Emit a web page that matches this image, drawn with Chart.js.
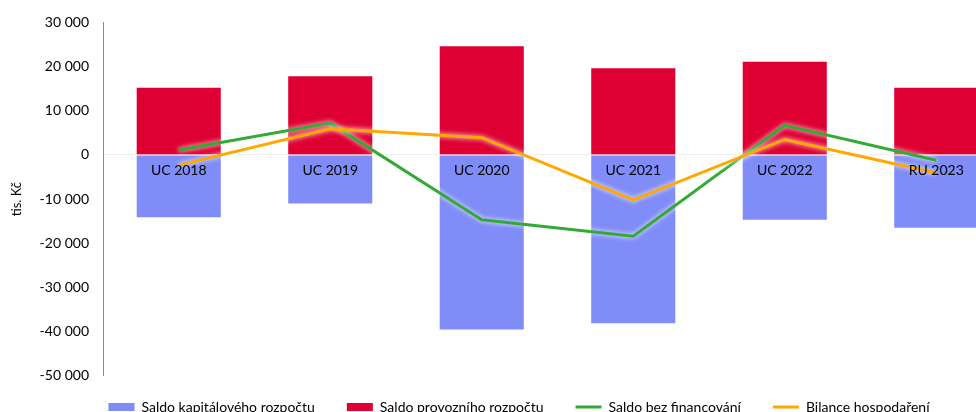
<!DOCTYPE html>
<html>
<head>
<meta charset="utf-8">
<script src="https://cdn.jsdelivr.net/npm/chart.js@4"></script>
<style>
    html, body { margin: 0; padding: 0; background: #fff; overflow: hidden; }
    #box { width: 1040px; height: 424px; }
</style>
</head>
<body>
<div id="box"><canvas id="saldoChart" width="1040" height="424"></canvas></div>
<script>
const years = ["UC 2018", "UC 2019", "UC 2020", "UC 2021", "UC 2022", "RU 2023"];
const kapitalovy = [-14100, -11000, -39500, -38100, -14700, -16500];
const provozni = [15200, 17800, 24600, 19600, 21100, 15200];
const bezFinancovani = [1100, 7200, -14700, -18400, 6700, -1200];
const bilance = [-2300, 5900, 3900, -10200, 3500, -4100];

const FONT = "Lato, 'Open Sans', sans-serif";
const BLUE = "#808cf8";
const RED = "#de0033";
const GREEN = "#33aa33";
const ORANGE = "#ffa800";

function formatThousands(v) {
    let s = String(Math.abs(v)).replace(/\B(?=(\d{3})+(?!\d))/g, " ");
    return (v < 0 ? "-" : "") + s;
}

// white halo round the lines, like the reference
const lineGlow = {
    id: "lineGlow",
    beforeDatasetDraw(chart, args) {
        if (args.meta.type !== "line") return;
        chart.ctx.save();
        chart.ctx.shadowColor = "rgba(255,255,255,0.95)";
        chart.ctx.shadowBlur = 5;
    },
    afterDatasetDraw(chart, args) {
        if (args.meta.type !== "line") return;
        chart.ctx.restore();
    },
};

let datasets = [];
datasets.push({
    type: "bar",
    label: "Saldo kapitálového rozpočtu",
    data: kapitalovy,
    backgroundColor: BLUE,
    borderColor: "#ffffff",
    borderWidth: 1,
    borderSkipped: false,
    inflateAmount: 1,
    grouped: false,
    order: 2,
});
datasets.push({
    type: "bar",
    label: "Saldo provozního rozpočtu",
    data: provozni,
    backgroundColor: RED,
    borderColor: "#ffffff",
    borderWidth: 1,
    borderSkipped: false,
    inflateAmount: 1,
    grouped: false,
    order: 2,
});
datasets.push({
    type: "line",
    label: "Saldo bez financování",
    data: bezFinancovani,
    borderColor: GREEN,
    backgroundColor: GREEN,
    borderWidth: 3,
    pointRadius: 0,
    tension: 0,
    order: 1,
});
datasets.push({
    type: "line",
    label: "Bilance hospodaření",
    data: bilance,
    borderColor: ORANGE,
    backgroundColor: ORANGE,
    borderWidth: 3,
    pointRadius: 0,
    tension: 0,
    order: 0,
});

let canvas = document.getElementById("saldoChart");
let chart = new Chart(canvas, {
    type: "bar",
    data: {
        labels: years,
        datasets: datasets,
    },
    options: {
        responsive: false,
        animation: false,
        barPercentage: 0.555,
        categoryPercentage: 1,
        layout: {
            padding: { top: 21, left: 26, right: 28, bottom: 0 },
        },
        font: { family: FONT, size: 14 },
        scales: {
            x: {
                // category labels sit just under the zero line, on top of the bars
                position: { y: 0 },
                grid: { display: false },
                border: { display: false },
                ticks: {
                    z: 1,
                    color: "#000",
                    font: { family: FONT, size: 14 },
                    padding: -1,
                    maxRotation: 0,
                    autoSkip: false,
                },
            },
            y: {
                min: -50000,
                max: 30000,
                afterFit: function (scale) {
                    scale.width = 77;
                },
                ticks: {
                    stepSize: 10000,
                    color: "#000",
                    padding: 14,
                    font: { family: FONT, size: 14 },
                    callback: (v) => formatThousands(v),
                },
                grid: {
                    drawTicks: false,
                    color: (c) => (c.tick && c.tick.value === 0 ? "#ededed" : "transparent"),
                },
                border: { display: true, color: "#8c8c8c", width: 1 },
                title: {
                    display: true,
                    text: "tis. Kč",
                    color: "#000",
                    font: { family: FONT, size: 13 },
                    padding: { top: -17, bottom: 0 },
                },
            },
        },
        plugins: {
            tooltip: { enabled: false },
            legend: {
                position: "bottom",
                // empty title with negative padding pulls the legend row up a bit
                title: {
                    display: true,
                    text: "",
                    font: { size: 1 },
                    padding: { top: -9, bottom: 0 },
                },
                labels: {
                    color: "#000",
                    font: { family: FONT, size: 14 },
                    usePointStyle: true,
                    pointStyleWidth: 26,
                    boxHeight: 8,
                    padding: 32,
                    sort: (a, b) => a.datasetIndex - b.datasetIndex,
                    generateLabels: function (ch) {
                        let items = Chart.defaults.plugins.legend.labels.generateLabels(ch);
                        items.forEach((item) => {
                            let ds = ch.data.datasets[item.datasetIndex];
                            if (ds.type === "line") {
                                item.pointStyle = "line";
                                item.strokeStyle = ds.borderColor;
                                item.lineWidth = 3;
                            } else {
                                item.pointStyle = "rect";
                                item.fillStyle = ds.backgroundColor;
                                item.strokeStyle = ds.backgroundColor;
                                item.lineWidth = 0;
                            }
                        });
                        return items;
                    },
                },
            },
        },
    },
    plugins: [lineGlow],
});
</script>
</body>
</html>
